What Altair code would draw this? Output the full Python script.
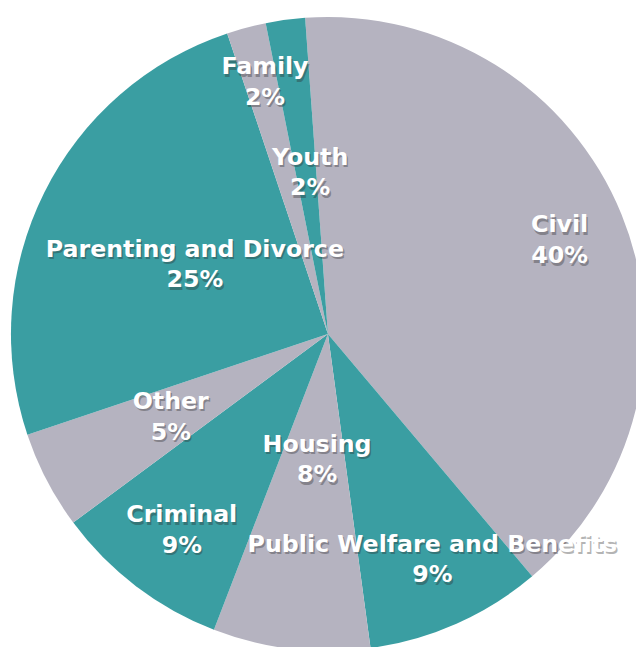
import math
import altair as alt
import pandas as pd

# ---- data ----
categories = ["Civil", "Public Welfare and Benefits", "Housing", "Criminal",
              "Other", "Parenting and Divorce", "Family", "Youth"]
values = [40, 9, 8, 9, 5, 25, 2, 2]
groups = ["g", "t", "g", "t", "g", "t", "g", "t"]

# ---- layout (label distance from centre, px) ----
label_radius = [249, 251, 129, 251, 184, 155, 263, 164]

df = pd.DataFrame({
    "category": categories,
    "value": values,
    "group": groups,
    "idx": list(range(len(categories))),
    "lr": label_radius,
})
df["label"] = [f"{c}\n{v}%" for c, v in zip(categories, values)]

offset = -0.072  # start angle (radians), slight rotation
theta_scale = alt.Scale(domain=[0, 100], range=[offset, offset + 2 * math.pi])
cx, cy = 324, 326

base = alt.Chart(df).transform_window(
    cum="sum(value)", sort=[alt.SortField("idx")], frame=[None, 0]
).transform_calculate(
    start="datum.cum - datum.value",
    mid="datum.cum - datum.value / 2",
)

arcs = base.mark_arc(radius=321, stroke=None, clip=True).encode(
    theta=alt.Theta("start:Q", scale=theta_scale),
    theta2="cum:Q",
    x=alt.value(cx),
    y=alt.value(cy),
    color=alt.Color("group:N",
                    scale=alt.Scale(domain=["g", "t"], range=["#b5b3c0", "#3a9ea2"]),
                    legend=None),
)

text_kw = dict(font="DejaVu Sans", fontWeight="bold", fontSize=24, lineBreak="\n",
               lineHeight=31, align="center", baseline="middle")

shadow = base.mark_text(color="#2a2a2a", opacity=0.35, dx=5.5, dy=-13.5, **text_kw).encode(
    theta=alt.Theta("mid:Q", scale=theta_scale),
    radius=alt.Radius("lr:Q", scale=None),
    x=alt.value(cx),
    y=alt.value(cy),
    text="label:N",
)

labels = base.mark_text(color="white", dx=4, dy=-16, **text_kw).encode(
    theta=alt.Theta("mid:Q", scale=theta_scale),
    radius=alt.Radius("lr:Q", scale=None),
    x=alt.value(cx),
    y=alt.value(cy),
    text="label:N",
)

chart = alt.layer(arcs, shadow, labels).properties(
    width=636, height=643, padding=0,
    autosize=alt.AutoSizeParams(type="none"),
).configure_view(stroke=None)

chart.save("out.html", embed_options={"renderer": "svg", "actions": False})
